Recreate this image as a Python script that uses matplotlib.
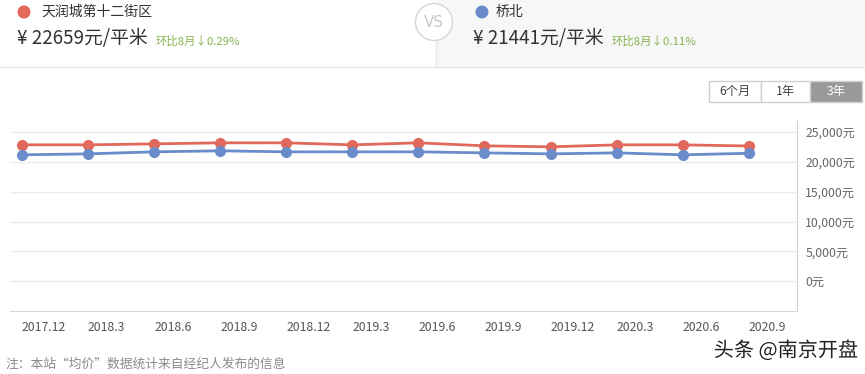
import matplotlib
matplotlib.use("Agg")
import matplotlib.pyplot as plt
from matplotlib.patches import Rectangle, Circle
import matplotlib.patheffects as pe

plt.rcParams['font.family'] = ['Noto Sans CJK SC', 'DejaVu Sans']

# ---- data ----
months = ["2017.12", "2018.3", "2018.6", "2018.9", "2018.12", "2019.3",
          "2019.6", "2019.9", "2019.12", "2020.3", "2020.6", "2020.9"]
tianrun = [22850, 22850, 23020, 23190, 23190, 22850, 23190, 22690, 22520, 22850, 22850, 22659]
qiaobei = [21180, 21340, 21680, 21850, 21680, 21680, 21680, 21510, 21340, 21510, 21180, 21441]
name_a, name_b = "天润城第十二街区", "桥北"
price_a, price_b = "¥ 22659元/平米", "¥ 21441元/平米"
chg_a, chg_b = "环比8月↓0.29%", "环比8月↓0.11%"
yticks = [0, 5000, 10000, 15000, 20000, 25000]
ytick_labels = ["0元", "5,000元", "10,000元", "15,000元", "20,000元", "25,000元"]
buttons = ["6个月", "1年", "3年"]

RED = "#E0695B"
BLUE = "#6B8CCB"

W, H = 865, 374
fig = plt.figure(figsize=(W / 100, H / 100), dpi=100)

# overlay axes in pixel coords
ov = fig.add_axes([0, 0, 1, 1])
ov.set_xlim(0, W)
ov.set_ylim(H, 0)
ov.axis("off")

# header
ov.add_patch(Rectangle((436, 0), W - 436, 67, facecolor="#f7f7f8", edgecolor="none", zorder=0))
ov.plot([0, W], [67, 67], color="#e6e6e6", lw=1)
ov.plot([436, 436], [42, 67], color="#e6e6e6", lw=1)
ov.add_patch(Circle((434, 22), 18.5, facecolor="white", edgecolor="#d5d5d5", lw=1, zorder=3))
ov.text(434, 22, "VS", ha="center", va="center", color="#c8c8c8", fontsize=11,
        family=["DejaVu Sans"], zorder=4)

ov.add_patch(Circle((24, 12), 6.5, facecolor=RED, edgecolor="none"))
ov.text(41, 12, name_a, ha="left", va="center", fontsize=10, color="#333333")
ov.text(17, 38, price_a, ha="left", va="center", fontsize=13.5, color="#333333")
ov.text(156, 41, chg_a, ha="left", va="center", fontsize=8.2, color="#86b24e")

ov.add_patch(Circle((482, 12), 6.5, facecolor=BLUE, edgecolor="none"))
ov.text(496, 12, name_b, ha="left", va="center", fontsize=10, color="#333333")
ov.text(473, 38, price_b, ha="left", va="center", fontsize=13.5, color="#333333")
ov.text(612, 41, chg_b, ha="left", va="center", fontsize=8.2, color="#86b24e")

# buttons
bx = [709, 761, 810, 862]
for i, lab in enumerate(buttons):
    sel = i == len(buttons) - 1
    ov.add_patch(Rectangle((bx[i], 81), bx[i + 1] - bx[i], 21,
                           facecolor="#9a9a9a" if sel else "white",
                           edgecolor="#d0d0d0", lw=1))
    ov.text((bx[i] + bx[i + 1]) / 2, 91.5, lab, ha="center", va="center",
            fontsize=8.8, color="white" if sel else "#444444")

# footer
ov.text(5, 364, "注：本站“均价”数据统计来自经纪人发布的信息", ha="left", va="center",
        fontsize=9.2, color="#8a8a8a")
ov.text(858, 351, "头条 @南京开盘", ha="right", va="center", fontsize=14.5, color="#222222",
        path_effects=[pe.withStroke(linewidth=2.5, foreground="white")])

# ---- chart ----
left, right, top, bottom = 10, 797, 121, 311
ax = fig.add_axes([left / W, 1 - bottom / H, (right - left) / W, (bottom - top) / H])
ax.patch.set_alpha(0)
x = list(range(len(months)))
ax.plot(x, tianrun, color=RED, lw=2, marker="o", ms=7, zorder=3)
ax.plot(x, qiaobei, color=BLUE, lw=2, marker="o", ms=7, zorder=3)
ax.set_xlim(-0.18, 11.73)
ax.set_ylim(-5000, 26850)
for yv in yticks:
    ax.axhline(yv, color="#ececec", lw=1, zorder=1)
ax.yaxis.tick_right()
ax.set_yticks(yticks)
ax.set_yticklabels(ytick_labels)
ax.tick_params(axis="y", length=0, pad=6, labelsize=8.8, labelcolor="#666666")
ax.set_xticks(x)
ax.set_xticklabels(months, ha="left")
ax.tick_params(axis="x", length=0, pad=7, labelsize=8.8, labelcolor="#555555")
for s in ["top", "left"]:
    ax.spines[s].set_visible(False)
ax.spines["right"].set_color("#d0d0d0")
ax.spines["bottom"].set_color("#d8d8d8")

fig.savefig("out.png", dpi=100)
